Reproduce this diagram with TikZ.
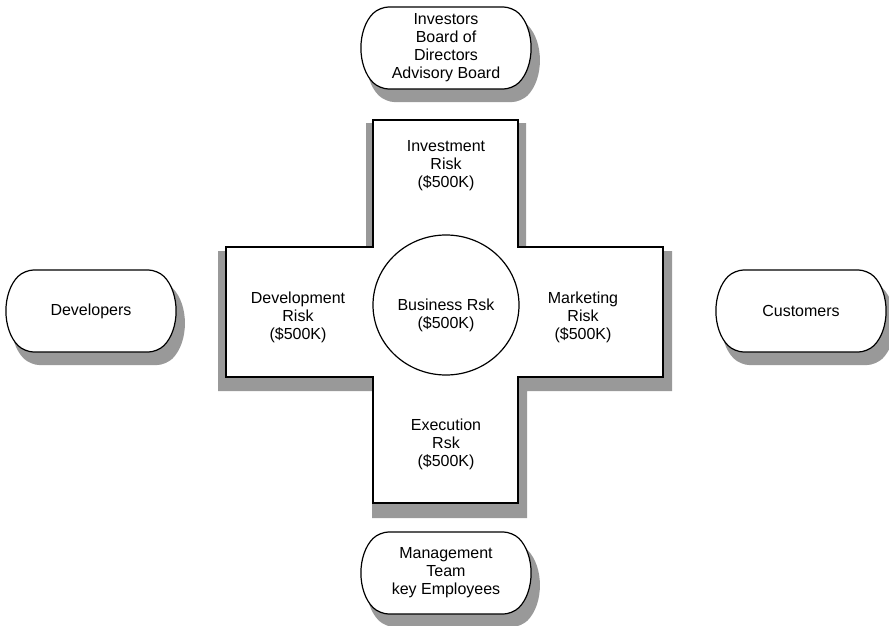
\documentclass[tikz,border=0pt]{standalone}
\usepackage{fontspec}
\setmainfont{Liberation Sans}
\usetikzlibrary{shapes.misc,shapes.geometric,shadows}

\begin{document}
\begin{tikzpicture}[x=1pt, y=-1pt,
    every node/.style={align=center, inner sep=0pt,
      font=\fontsize{16}{18}\selectfont
    },
    party/.style={draw, line width=1.2pt, fill=white,
      rounded rectangle, rounded rectangle arc length=90,
      rounded corners=9pt,
      minimum width=167pt, minimum height=82pt,
      drop shadow={shadow xshift=7pt, shadow yshift=-12pt,
        shadow scale=1.02, fill=black!40, opacity=1}
    },
    shade/.style={fill=black!40, draw=none},
  ]
  \useasboundingbox (0,0) rectangle (889,626);
  % the cross of risks
  \begin{scope}
    \fill[shade] (366,123) -- (526,123) -- (526,251) -- (672,251)
      -- (672,391) -- (527,391) -- (527,518) -- (372,518)
      -- (372,391) -- (218,391) -- (218,251) -- (366,251) -- cycle;
    \draw[line width=1.6pt, fill=white] (373,120) -- (518,120)
      -- (518,247) -- (663,247) -- (663,377) -- (518,377)
      -- (518,503) -- (373,503) -- (373,377) -- (226,377)
      -- (226,247) -- (373,247) -- cycle;
    \node[draw, ellipse, line width=1.2pt, minimum width=146pt,
      minimum height=140pt] (core) at (446,305) {};
    \node (coretext) at (446,315) {Business Rsk\\(\$500K)};
    \node (invest) at (446,166) {Investment\\Risk\\(\$500K)};
    \node (develop) at (298,317) {Development\\Risk\\(\$500K)};
    \node (market) at (583,317) {Marketing\\Risk\\(\$500K)};
    \node (execute) at (446,444) {Execution\\Rsk\\(\$500K)};
  \end{scope}
  % the parties around it
  \node[party] (investors) at (446,48)
    {Investors\\Board of\\Directors\\Advisory Board};
  \node[party] (developers) at (91,311) {Developers};
  \node[party] (customers) at (801,311) {Customers};
  \node[party] (management) at (446,573)
    {Management\\Team\\key Employees};
\end{tikzpicture}
\end{document}
